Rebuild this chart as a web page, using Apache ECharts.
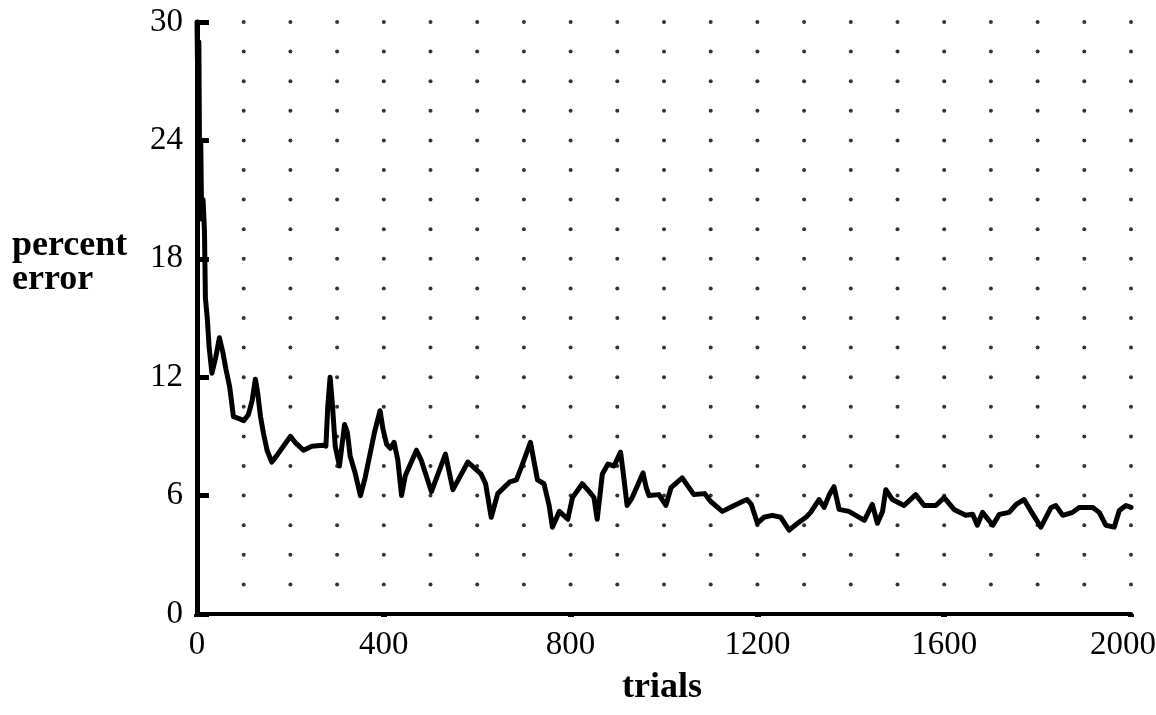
<!DOCTYPE html>
<html>
<head>
<meta charset="utf-8">
<title>percent error vs trials</title>
<script src="https://cdn.jsdelivr.net/npm/echarts@6/dist/echarts.min.js"></script>
<style>
  html, body { margin: 0; padding: 0; background: #fff; }
  #chart { width: 1156px; height: 715px; }
</style>
</head>
<body>
<div id="chart"></div>
<script>
// trial numbers and the matching percent error
const trials = [
  0, 2, 4, 6, 8, 10, 13, 16, 18, 22, 26, 32, 40, 48, 55, 62, 70, 78, 90, 100,
  110, 118, 125, 130, 136, 142, 150, 160, 170, 185, 200, 210, 228, 246, 270, 276, 280, 285, 290, 296,
  305, 316, 322, 328, 338, 350, 360, 380, 392, 398, 406, 414, 422, 430, 438, 446, 470, 480, 502, 532,
  548, 580, 608, 618, 630, 644, 670, 684, 697, 714, 729, 743, 754, 761, 776, 794, 804, 825, 840, 850,
  857, 868, 880, 893, 907, 914, 921, 932, 955, 962, 968, 989, 1004, 1015, 1039, 1064, 1087, 1100, 1125, 1146,
  1168, 1178, 1187, 1200, 1214, 1232, 1250, 1268, 1286, 1304, 1314, 1332, 1343, 1354, 1364, 1375, 1396, 1418, 1429, 1446,
  1457, 1468, 1475, 1489, 1514, 1539, 1557, 1582, 1600, 1621, 1646, 1661, 1671, 1682, 1704, 1718, 1739, 1754, 1771, 1786,
  1807, 1829, 1839, 1854, 1875, 1889, 1918, 1932, 1946, 1964, 1975, 1989, 2000
]
const percentError = [
  30, 26, 29, 21, 24, 20, 21, 19.4, 16, 15, 13.5, 12.2, 13, 14, 13.3, 12.4, 11.5, 10, 9.9, 9.8,
  10.1, 10.8, 11.9, 11.2, 10, 9.2, 8.3, 7.7, 8, 8.5, 9, 8.7, 8.3, 8.5, 8.55, 8.5, 10.5, 12, 10.6, 8.5,
  7.5, 9.6, 9.2, 8, 7.2, 6, 6.9, 9.2, 10.3, 9.4, 8.6, 8.4, 8.7, 7.8, 6, 7, 8.3, 7.8, 6.2, 8.1,
  6.3, 7.7, 7.1, 6.6, 4.9, 6.1, 6.7, 6.8, 7.6, 8.7, 6.8, 6.6, 5.5, 4.4, 5.2, 4.8, 5.9, 6.6, 6.2, 5.9,
  4.8, 7.1, 7.6, 7.5, 8.2, 6.9, 5.5, 5.9, 7.15, 6.4, 6, 6.05, 5.5, 6.4, 6.9, 6.05, 6.1, 5.7, 5.2, 5.45,
  5.7, 5.8, 5.55, 4.6, 4.9, 5, 4.9, 4.25, 4.6, 4.9, 5.15, 5.8, 5.4, 6.05, 6.45, 5.3, 5.2, 4.9, 4.75, 5.55,
  4.6, 5.2, 6.3, 5.8, 5.5, 6.05, 5.5, 5.5, 5.9, 5.3, 5, 5.05, 4.5, 5.15, 4.5, 5.05, 5.15, 5.55, 5.8, 5.2,
  4.4, 5.4, 5.5, 5, 5.15, 5.4, 5.4, 5.15, 4.5, 4.4, 5.25, 5.5, 5.4
]

// dotted background: one dot per 100 trials and per 1.5 percent
const dotTrials = [100, 200, 300, 400, 500, 600, 700, 800, 900, 1000,
  1100, 1200, 1300, 1400, 1500, 1600, 1700, 1800, 1900, 2000]
const dotLevels = [1.5, 3, 4.5, 6, 7.5, 9, 10.5, 12, 13.5, 15,
  16.5, 18, 19.5, 21, 22.5, 24, 25.5, 27, 28.5, 30]

const chart = echarts.init(document.getElementById('chart'))

const lineData = trials.map((t, i) => [t, percentError[i]])
const dots = []
dotTrials.forEach(x => {
  dotLevels.forEach(y => dots.push([x, y]))
})

const serif = 'Liberation Serif'

const option = {
  animation: false,
  grid: {
    left: 197,
    right: 25,
    top: 22,
    bottom: 101,
    outerBoundsMode: 'none'
  },
  xAxis: {
    type: 'value',
    min: 0,
    max: 2000,
    interval: 400,
    axisLine: { lineStyle: { color: '#000', width: 4 } },
    axisTick: { show: true, length: 3, lineStyle: { color: '#000', width: 6 } },
    axisLabel: {
      color: '#000', fontFamily: serif, fontSize: 33, margin: 15,
      // last label is pulled left a little so it stays on the page
      formatter: v => (v === 2000 ? '{last|' + v + '}' : String(v)),
      rich: {
        last: { fontFamily: serif, fontSize: 33, color: '#000', padding: [0, 16, 0, 0] }
      }
    },
    splitLine: { show: false }
  },
  yAxis: {
    type: 'value',
    min: 0,
    max: 30,
    interval: 6,
    axisLine: { show: true, lineStyle: { color: '#000', width: 5 } },
    axisTick: { show: true, inside: true, length: 12, lineStyle: { color: '#000', width: 5 } },
    axisLabel: { color: '#000', fontFamily: serif, fontSize: 33, margin: 14 },
    splitLine: { show: false }
  },
  graphic: [
    {
      type: 'text',
      left: 12,
      top: 228,
      style: {
        text: 'percent\nerror',
        fontFamily: serif,
        fontWeight: 'bold',
        fontSize: 36,
        lineHeight: 34,
        fill: '#000'
      }
    },
    {
      type: 'text',
      left: 622,
      top: 670,
      style: {
        text: 'trials',
        fontFamily: serif,
        fontWeight: 'bold',
        fontSize: 36,
        fill: '#000'
      }
    }
  ],
  series: [
    {
      type: 'scatter',
      data: dots,
      symbolSize: 4,
      silent: true,
      itemStyle: { color: '#000' },
      z: 1
    },
    {
      type: 'line',
      data: lineData,
      showSymbol: false,
      lineStyle: { color: '#000', width: 5, join: 'round', cap: 'round' },
      z: 3
    }
  ]
}

chart.setOption(option)
</script>
</body>
</html>
